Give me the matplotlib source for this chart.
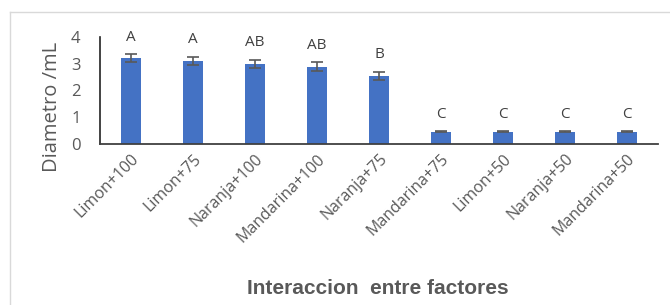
import matplotlib
matplotlib.use("Agg")
import matplotlib.pyplot as plt
from matplotlib.lines import Line2D

# datos
tratamientos = ["Limon+100", "Limon+75", "Naranja+100", "Mandarina+100", "Naranja+75",
                "Mandarina+75", "Limon+50", "Naranja+50", "Mandarina+50"]
diametro = [3.20, 3.10, 3.00, 2.89, 2.55, 0.45, 0.45, 0.45, 0.45]
error = [0.15, 0.16, 0.15, 0.16, 0.14, 0.02, 0.02, 0.02, 0.02]
letras = ["A", "A", "AB", "AB", "B", "C", "C", "C", "C"]

plt.rcParams['font.family'] = ['Open Sans', 'DejaVu Sans']
gris = "#595959"

W, H = 670, 305
fig = plt.figure(figsize=(W / 100, H / 100), dpi=100)
ax = fig.add_axes([100 / W, (H - 144) / H, 558 / W, 107 / H])

x = list(range(len(tratamientos)))
ax.bar(x, diametro, width=0.33, color="#4472C4",
       yerr=error, error_kw=dict(ecolor=gris, elinewidth=1.2, capsize=4, capthick=1.2))

for xi, v, e, l in zip(x, diametro, error, letras):
    ax.annotate(l, (xi, v + e), xytext=(0, 7), textcoords="offset points",
                ha="center", va="bottom", fontsize=11, color="#404040")

ax.set_xlim(-0.5, len(tratamientos) - 0.5)
ax.set_ylim(0, 4)
ax.set_yticks([0, 1, 2, 3, 4])
ax.set_xticks(x)
ax.set_xticklabels(tratamientos, rotation=45, ha="right", rotation_mode="anchor",
                   fontsize=11.5, color=gris)
ax.tick_params(axis="y", length=0, labelsize=12, colors=gris, pad=14)
ax.tick_params(axis="x", length=0, pad=5)

for s in ["top", "right"]:
    ax.spines[s].set_visible(False)
ax.spines["left"].set_color("#222222")
ax.spines["bottom"].set_color("#404040")
ax.spines["left"].set_linewidth(1.2)
ax.spines["bottom"].set_linewidth(1.3)

fig.text(52 / W, 1 - 107 / H, "Diametro /mL", rotation=90, ha="center", va="center",
         fontsize=14.5, color=gris)
fig.text(378 / W, 1 - 288 / H, "Interaccion  entre factores", ha="center", va="center",
         fontsize=15, color=gris, fontweight="bold",
         family=["Liberation Sans Narrow", "Liberation Sans", "DejaVu Sans"])

# marco gris del area del grafico
fig.add_artist(Line2D([10 / W, 10 / W], [0, 1 - 12 / H], transform=fig.transFigure,
                      color="#d9d9d9", lw=1))
fig.add_artist(Line2D([10 / W, 1], [1 - 12 / H, 1 - 12 / H], transform=fig.transFigure,
                      color="#d9d9d9", lw=1))

fig.savefig("out.png", dpi=100)
